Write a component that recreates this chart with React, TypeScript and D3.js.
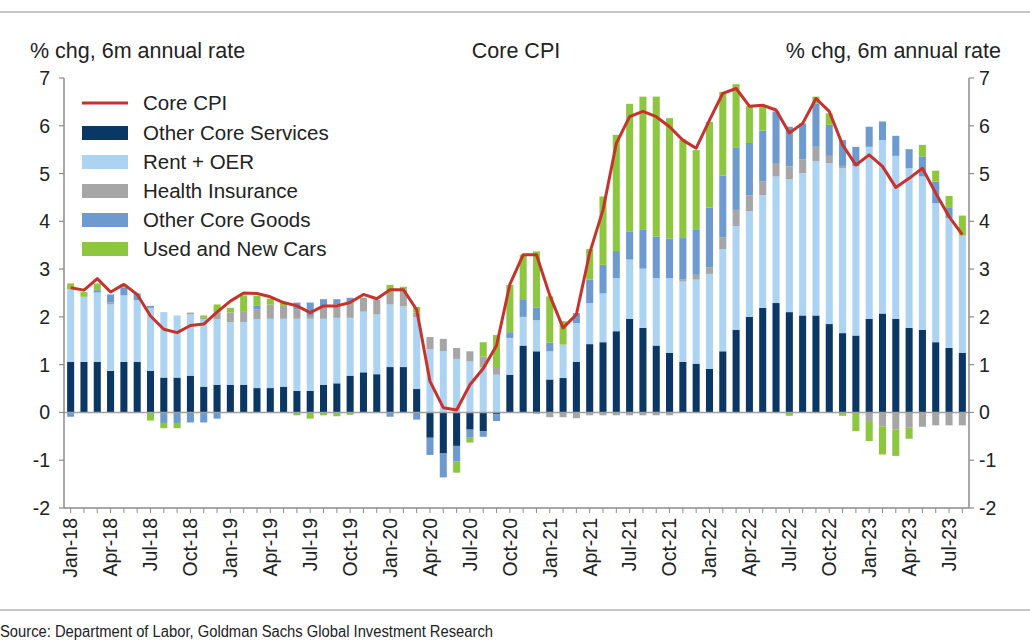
import React from "react";
import * as d3 from "d3";

const months: string[] = (() => {
  const m = ["Jan", "Feb", "Mar", "Apr", "May", "Jun", "Jul", "Aug", "Sep", "Oct", "Nov", "Dec"];
  const out: string[] = [];
  for (let y = 18; y <= 23; y++) for (let i = 0; i < 12; i++) {
    if (y === 23 && i > 7) break;
    out.push(`${m[i]}-${y}`);
  }
  return out;
})();

const otherCoreServices = [
  1.06, 1.06, 1.06, 0.87, 1.06, 1.06, 0.87, 0.73, 0.73, 0.77, 0.54, 0.58,
  0.58, 0.58, 0.51, 0.51, 0.54, 0.45, 0.45, 0.58, 0.61, 0.77, 0.84, 0.80,
  0.95, 0.95, 0.49, -0.53, -0.86, -0.70, -0.36, -0.39, -0.04, 0.79, 1.40, 1.28,
  0.69, 0.72, 1.06, 1.43, 1.47, 1.70, 1.96, 1.77, 1.40, 1.25, 1.06, 1.02,
  0.91, 1.28, 1.73, 2.00, 2.19, 2.29, 2.10, 2.03, 2.03, 1.85, 1.66, 1.61,
  1.96, 2.07, 1.96, 1.77, 1.73, 1.47, 1.35, 1.25,
];
const rentOER = [
  1.52, 1.36, 1.45, 1.39, 1.39, 1.29, 1.32, 1.37, 1.30, 1.28, 1.41, 1.37,
  1.31, 1.31, 1.44, 1.45, 1.42, 1.51, 1.51, 1.38, 1.37, 1.21, 1.27, 1.25,
  1.31, 1.27, 1.50, 1.32, 1.28, 1.12, 1.07, 0.95, 0.79, 0.77, 0.60, 0.65,
  0.59, 0.70, 0.81, 0.86, 1.02, 1.11, 1.24, 1.24, 1.41, 1.56, 1.68, 1.76,
  1.99, 2.14, 2.17, 2.21, 2.36, 2.65, 2.78, 2.98, 3.23, 3.37, 3.45, 3.54,
  3.60, 3.63, 3.41, 3.34, 3.21, 2.91, 2.72, 2.45,
];
const healthInsurance = [
  0, 0, 0, 0.04, 0, 0, 0, 0, 0, 0.04, 0.03, 0.14,
  0.2, 0.23, 0.21, 0.3, 0.27, 0.2, 0.06, 0.27, 0.28, 0.32, 0.29, 0.31,
  0.24, 0.35, 0.1, 0.26, 0.26, 0.23, 0.21, 0.22, 0.14, 0, 0, -0.03,
  -0.1, -0.1, -0.12, -0.06, -0.06, -0.06, -0.06, -0.06, -0.06, -0.06, 0.04, 0.1,
  0.14, 0.25, 0.34, 0.33, 0.28, 0.28, 0.27, 0.29, 0.3, 0.15, 0.05, 0,
  -0.18, -0.29, -0.36, -0.32, -0.3, -0.27, -0.27, -0.27,
];
const otherCoreGoods = [
  -0.09, 0, 0.05, 0.17, 0.16, 0.14, 0.04, -0.22, -0.22, -0.21, -0.21, -0.13,
  0, 0, 0.07, 0, 0, 0.14, 0.28, 0.14, 0.11, 0.1, 0, 0,
  -0.09, 0, -0.15, -0.36, -0.5, -0.32, -0.17, -0.12, -0.14, 0.12, 0.37, 0.26,
  0.18, 0, 0.21, 0.49, 0.6, 0.57, 0.59, 0.81, 0.87, 0.83, 0.87, 0.94,
  1.25, 1.29, 1.31, 1.1, 1.07, 1.08, 0.83, 0.75, 0.91, 0.65, 0.54, 0.41,
  0.42, 0.39, 0.42, 0.4, 0.42, 0.45, 0.21, 0,
];
const usedNewCars = [
  0.12, 0.1, 0.14, 0, 0.07, 0, -0.17, -0.11, -0.11, 0, 0.05, 0.17,
  0.1, 0.33, 0.21, 0.12, 0.07, -0.06, -0.13, -0.06, -0.08, -0.05, 0, 0,
  0.17, 0.06, 0.12, 0, 0, -0.24, -0.1, 0.3, 0.69, 0.99, 0.93, 1.18,
  0.97, 0.49, 0, 0.64, 1.43, 2.43, 2.67, 2.79, 2.93, 2.52, 2.06, 1.67,
  1.79, 1.75, 1.32, 0.77, 0.53, 0, -0.07, 0, 0.14, 0.24, -0.07, -0.39,
  -0.42, -0.59, -0.55, -0.23, 0.24, 0.23, 0.25, 0.42,
];
const coreCPI = [
  2.61, 2.56, 2.8, 2.52, 2.68, 2.47, 2.02, 1.74, 1.67, 1.82, 1.85, 2.1,
  2.33, 2.5, 2.49, 2.42, 2.3, 2.23, 2.09, 2.23, 2.23, 2.3, 2.47, 2.38,
  2.57, 2.57, 2.15, 0.65, 0.1, 0.05, 0.58, 0.92, 1.4, 2.68, 3.3, 3.3,
  2.45, 1.77, 2.05, 3.34, 4.24, 5.63, 6.19, 6.3, 6.19, 5.98, 5.7, 5.53,
  6.12, 6.68, 6.78, 6.41, 6.43, 6.33, 5.85, 6.05, 6.57, 6.3, 5.6, 5.18,
  5.39, 5.15, 4.71, 4.9, 5.11, 4.59, 4.1, 3.72,
];

const seriesKeys = ["services", "rent", "health", "goods", "cars"];
const seriesNames = ["Other Core Services", "Rent + OER", "Health Insurance", "Other Core Goods", "Used and New Cars"];
const seriesColors = ["#0a3764", "#acd4f2", "#a6a6a6", "#6e9bcf", "#8dc63f"];
const yTicks = [-2, -1, 0, 1, 2, 3, 4, 5, 6, 7];
const lineColor = "#c8322c";
const FONT = "Arial, 'Liberation Sans', Helvetica, sans-serif";

export default function App() {
  const W = 1030, H = 642;
  const left = 64, right = 969, top = 78, bottom = 508;

  const rows = months.map((m, i) => ({
    month: m,
    services: otherCoreServices[i],
    rent: rentOER[i],
    health: healthInsurance[i],
    goods: otherCoreGoods[i],
    cars: usedNewCars[i],
  }));

  const x = d3.scaleBand<string>().domain(months).range([left, right]).paddingInner(0.47).paddingOuter(0.235);
  const y = d3.scaleLinear().domain([-2, 7]).range([bottom, top]);
  const stack = d3.stack<any>().keys(seriesKeys).offset(d3.stackOffsetDiverging);
  const stacked = stack(rows);
  const line = d3.line<number>().x((_, i) => (x(months[i]) as number) + x.bandwidth() / 2).y((d) => y(d));

  const tickLabelIdx = months.map((m, i) => i).filter((i) => i % 3 === 0);
  const axisColor = "#8c8c8c";
  const fsTitle = 21.5;
  const fsLegend = 20.5;
  const fsAxis = 19.5;

  return (
    <svg width={W} height={H} style={{ position: "absolute", left: 0, top: 0, background: "#fff" }} fontFamily={FONT}>
      <line x1={0} x2={W} y1={12} y2={12} stroke="#b4b4b4" strokeWidth={1.5} />
      <text x={30} y={58} fontSize={fsTitle} fill="#222">% chg, 6m annual rate</text>
      <text x={516} y={58} fontSize={fsTitle} fill="#222" textAnchor="middle">Core CPI</text>
      <text x={1001} y={58} fontSize={fsTitle} fill="#222" textAnchor="end">% chg, 6m annual rate</text>

      {stacked.map((s, si) => (
        <g key={s.key} fill={seriesColors[si]}>
          {s.map((d, i) => {
            const y0 = y(d[0]), y1 = y(d[1]);
            const h = Math.abs(y0 - y1);
            if (h < 0.01) return null;
            return <rect key={i} x={x(months[i])} width={x.bandwidth()} y={Math.min(y0, y1)} height={h} />;
          })}
        </g>
      ))}

      <line x1={left} x2={right} y1={y(0)} y2={y(0)} stroke="#a0a0a0" strokeWidth={1.5} />

      <path d={line(coreCPI) || ""} fill="none" stroke={lineColor} strokeWidth={3} strokeLinejoin="round" />

      {/* axes */}
      <line x1={left} x2={left} y1={top} y2={bottom} stroke={axisColor} strokeWidth={1.5} />
      <line x1={right} x2={right} y1={top} y2={bottom} stroke={axisColor} strokeWidth={1.5} />
      <line x1={left} x2={right} y1={bottom} y2={bottom} stroke={axisColor} strokeWidth={1.5} />
      {yTicks.map((t) => (
        <g key={t}>
          <line x1={left - 5} x2={left} y1={y(t)} y2={y(t)} stroke={axisColor} strokeWidth={1.2} />
          <line x1={right} x2={right + 5} y1={y(t)} y2={y(t)} stroke={axisColor} strokeWidth={1.2} />
          <text x={50} y={y(t)} dy="0.36em" fontSize={fsAxis} textAnchor="end" fill="#222">{t}</text>
          <text x={979} y={y(t)} dy="0.36em" fontSize={fsAxis} textAnchor="start" fill="#222">{t}</text>
        </g>
      ))}
      {months.map((m, i) => {
        const cx = (x(m) as number) + x.bandwidth() / 2;
        return <line key={m} x1={cx} x2={cx} y1={bottom} y2={bottom + 5} stroke={axisColor} strokeWidth={1} />;
      })}
      {tickLabelIdx.map((i) => {
        const cx = (x(months[i]) as number) + x.bandwidth() / 2;
        return (
          <text key={i} transform={`translate(${cx},${bottom + 10}) rotate(-90)`} dy="0.35em" fontSize={fsAxis} textAnchor="end" fill="#222">
            {months[i]}
          </text>
        );
      })}

      {/* legend */}
      <g>
        <line x1={82} x2={128} y1={103} y2={103} stroke={lineColor} strokeWidth={3} />
        <text x={143} y={103} dy="0.36em" fontSize={fsLegend} fill="#222">Core CPI</text>
        {seriesNames.map((n, i) => (
          <g key={n}>
            <rect x={82} y={133 + i * 29 - 7} width={46} height={14} fill={seriesColors[i]} />
            <text x={143} y={133 + i * 29} dy="0.36em" fontSize={fsLegend} fill="#222">{n}</text>
          </g>
        ))}
      </g>

      <line x1={0} x2={W} y1={610} y2={610} stroke="#b4b4b4" strokeWidth={1.5} />
      <text x={0} y={637} fontSize={16} fill="#222" textLength={493} lengthAdjust="spacingAndGlyphs">
        Source: Department of Labor, Goldman Sachs Global Investment Research
      </text>
    </svg>
  );
}
